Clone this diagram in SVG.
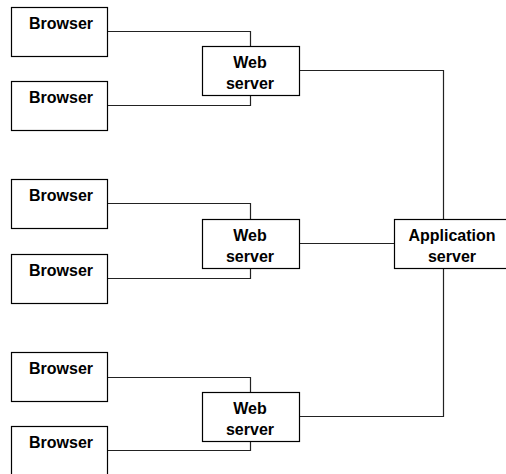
<svg xmlns="http://www.w3.org/2000/svg" width="506" height="474" viewBox="0 0 506 474">
<style>
.box{fill:#fff;stroke:#000;stroke-width:1.2}
.t{font-family:"Liberation Sans",Arial,sans-serif;font-weight:bold;font-size:16px;fill:#000;text-anchor:middle}
.c{fill:none;stroke:#222;stroke-width:1.2}
</style>
<rect width="506" height="474" fill="#fff"/>
<g id="connectors">
<path class="c" d="M107.5 31.5H250.5V46.5"/>
<path class="c" d="M107.5 105.5H250.5V95.5"/>
<path class="c" d="M107.5 203.5H250.5V219.5"/>
<path class="c" d="M107.5 278.5H250.5V268.5"/>
<path class="c" d="M107.5 377.5H250.5V392.5"/>
<path class="c" d="M107.5 450.5H250.5V441.5"/>
<path class="c" d="M299.5 70.5H443.5V219.5"/>
<path class="c" d="M299.5 243.5H394.5"/>
<path class="c" d="M299.5 416.5H443.5V268.5"/>
</g>
<g id="browser1"><rect class="box" x="11.5" y="7.5" width="96" height="49"/><text class="t" x="61" y="28.5">Browser</text></g>
<g id="browser2"><rect class="box" x="11.5" y="81.5" width="96" height="49"/><text class="t" x="61" y="102.5">Browser</text></g>
<g id="web1"><rect class="box" x="202.5" y="46.5" width="97" height="49"/><text class="t" x="250" y="68">Web</text><text class="t" x="250" y="89">server</text></g>
<g id="browser3"><rect class="box" x="11.5" y="179.5" width="96" height="49"/><text class="t" x="61" y="200.5">Browser</text></g>
<g id="browser4"><rect class="box" x="11.5" y="254.5" width="96" height="49"/><text class="t" x="61" y="275.5">Browser</text></g>
<g id="web2"><rect class="box" x="202.5" y="219.5" width="97" height="49"/><text class="t" x="250" y="241">Web</text><text class="t" x="250" y="262">server</text></g>
<g id="browser5"><rect class="box" x="11.5" y="352.5" width="96" height="49"/><text class="t" x="61" y="373.5">Browser</text></g>
<g id="browser6"><rect class="box" x="11.5" y="426.5" width="96" height="49"/><text class="t" x="61" y="447.5">Browser</text></g>
<g id="web3"><rect class="box" x="202.5" y="392.5" width="97" height="49"/><text class="t" x="250" y="414">Web</text><text class="t" x="250" y="435">server</text></g>
<g id="app"><rect class="box" x="394.5" y="219.5" width="120" height="49"/><text class="t" x="452" y="241">Application</text><text class="t" x="452" y="262">server</text></g>
</svg>
